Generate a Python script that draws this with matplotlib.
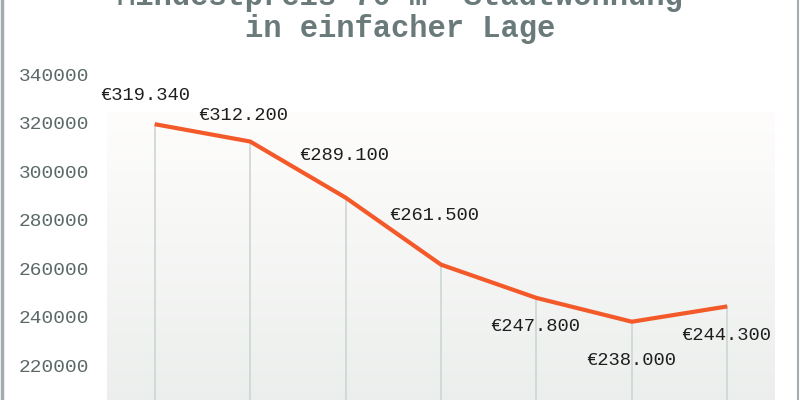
import numpy as np
import matplotlib.pyplot as plt
from matplotlib.colors import LinearSegmentedColormap
from matplotlib.lines import Line2D

# daten
jahre_idx = [0, 1, 2, 3, 4, 5, 6]
preise = [319340, 312200, 289100, 261500, 247800, 238000, 244300]
labels = ["€319.340", "€312.200", "€289.100", "€261.500",
          "€247.800", "€238.000", "€244.300"]
yticks = [220000, 240000, 260000, 280000, 300000, 320000, 340000]
titel = "Mindestpreis 70 m² Stadtwohnung\nin einfacher Lage"

mono = "Liberation Mono"

fig = plt.figure(figsize=(8, 4), dpi=100)
fig.patch.set_facecolor("white")

# achse: 340000 bei y=74px, 200000 bei y=414px, x von 107px bis 775px
ax = fig.add_axes([107 / 800, 1 - 414 / 400, 668 / 800, 340 / 400])
ax.set_xlim(-0.5, 6.5)
ax.set_ylim(200000, 340000)
ax.patch.set_alpha(0)

# hintergrund mit verlauf
cmap = LinearSegmentedColormap.from_list("bg", ["#ebeeec", "#fefdfc"])
grad = np.linspace(0, 1, 256).reshape(-1, 1)
ax.imshow(grad, cmap=cmap, aspect="auto", origin="lower",
          extent=(-0.5, 6.5, 200000, 324300), zorder=0)

# senkrechte linien
ax.vlines(jahre_idx, 200000, preise, color="#cdd6d5", lw=1.2, zorder=1)

# linie
ax.plot(jahre_idx, preise, color="#f4592a", lw=3, solid_capstyle="butt", zorder=3)

# beschriftung der punkte
offsets = [(-10, 29), (-7, 26), (-1, 42), (-7, 49), (-1, -29), (-1, -39), (-1, -29)]
for x, y, t, (dx, dy) in zip(jahre_idx, preise, labels, offsets):
    ax.annotate(t, (x, y), xytext=(dx * 0.72, dy * 0.72), textcoords="offset points",
                ha="center", va="center", fontsize=13.5, family=mono,
                color="#1e1e1e", zorder=4)

ax.set_yticks(yticks)
ax.set_yticklabels([str(v) for v in yticks], family=mono, fontsize=14, color="#5c6868")
ax.set_xticks([])
ax.tick_params(axis="y", length=0, pad=13)
for s in ax.spines.values():
    s.set_visible(False)

# titel
fig.text(0.5, 1 - 37 / 400, titel, ha="center", va="baseline", family=mono,
         fontsize=22, fontweight="bold", color="#6a7a7a", linespacing=1.1)

# rahmen links und rechts
fig.add_artist(Line2D([0.002, 0.002], [0, 1], color="#a3adb0", lw=2.5, transform=fig.transFigure))
fig.add_artist(Line2D([0.997, 0.997], [0, 1], color="#a3adb0", lw=1.5, transform=fig.transFigure))

plt.savefig("out.png", dpi=100)
